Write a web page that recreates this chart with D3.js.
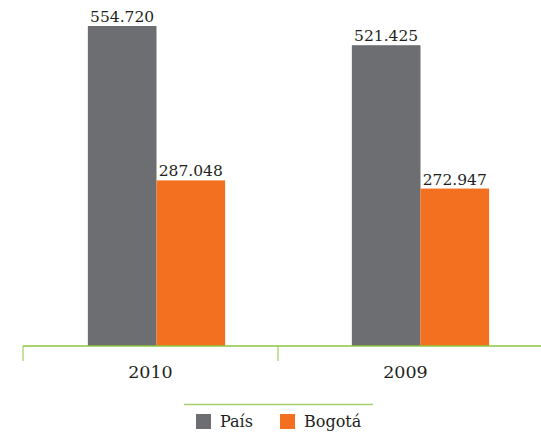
<!DOCTYPE html>
<html>
<head>
<meta charset="utf-8">
<script src="https://cdn.jsdelivr.net/npm/d3@7"></script>
<style>
  body { margin: 0; background: #fff; }
  text { font-family: "DejaVu Serif", serif; fill: #231f20; }
</style>
</head>
<body>
<div id="chart"></div>
<script>
// Data
const years = ["2010", "2009"];
const series = ["País", "Bogotá"];
const pais = [554720, 521425];
const bogota = [287048, 272947];
const colors = ["#6d6e71", "#f37021"];

const width = 541, height = 434;
const baseY = 346;

const svg = d3
  .select("#chart")
  .append("svg")
  .attr("width", width)
  .attr("height", height);

const es = d3.formatLocale({ decimal: ",", thousands: ".", grouping: [3], currency: ["$", ""] });
const fmt = es.format(",d");

// Group scale for bars
const x0 = d3
  .scaleBand()
  .domain(years)
  .range([24.5, 552.5])
  .paddingInner(0.48)
  .paddingOuter(0.24);

const x1 = d3.scaleBand().domain(series).range([0, x0.bandwidth()]);

// Axis scale (category boundaries)
const xAxis = d3.scaleBand().domain(years).range([23, 533]);

const y = d3.scaleLinear().domain([0, 554720]).range([baseY, 26]);

const rows = years.map((yr, i) => ({ year: yr, values: [pais[i], bogota[i]] }));

const groups = svg
  .selectAll("g.year")
  .data(rows)
  .join("g")
  .attr("class", "year")
  .attr("transform", (d) => `translate(${x0(d.year)},0)`);

groups
  .selectAll("rect")
  .data((d) => d.values.map((v, j) => ({ key: series[j], value: v, c: colors[j] })))
  .join("rect")
  .attr("x", (d) => x1(d.key))
  .attr("y", (d) => y(d.value))
  .attr("width", x1.bandwidth())
  .attr("height", (d) => baseY - y(d.value))
  .attr("fill", (d) => d.c);

groups
  .selectAll("text.val")
  .data((d) => d.values.map((v, j) => ({ key: series[j], value: v })))
  .join("text")
  .attr("class", "val")
  .attr("x", (d) => x1(d.key) + x1.bandwidth() / 2)
  .attr("y", (d) => y(d.value) - 4)
  .attr("text-anchor", "middle")
  .attr("font-size", "15.5px")
  .text((d) => fmt(d.value));

// Axis line and ticks
svg
  .append("line")
  .attr("x1", 23)
  .attr("x2", width)
  .attr("y1", baseY)
  .attr("y2", baseY)
  .attr("stroke", "#8dc63f")
  .attr("stroke-width", 1.5);

svg
  .selectAll("line.tick")
  .data(years)
  .join("line")
  .attr("class", "tick")
  .attr("x1", (d) => xAxis(d))
  .attr("x2", (d) => xAxis(d))
  .attr("y1", baseY)
  .attr("y2", 361)
  .attr("stroke", "#8dc63f")
  .attr("stroke-width", 1);

svg
  .selectAll("text.yr")
  .data(years)
  .join("text")
  .attr("class", "yr")
  .attr("x", (d) => xAxis(d) + xAxis.bandwidth() / 2)
  .attr("y", 378)
  .attr("text-anchor", "middle")
  .attr("font-size", "17.5px")
  .text((d) => d);

// Legend
svg
  .append("line")
  .attr("x1", 184)
  .attr("x2", 373)
  .attr("y1", 404.5)
  .attr("y2", 404.5)
  .attr("stroke", "#a6d06f")
  .attr("stroke-width", 1.5);

const legendX = [196, 280];
const legend = svg
  .selectAll("g.legend")
  .data(series)
  .join("g")
  .attr("class", "legend")
  .attr("transform", (d, i) => `translate(${legendX[i]},414)`);

legend
  .append("rect")
  .attr("width", 15)
  .attr("height", 15)
  .attr("fill", (d, i) => colors[i]);

legend
  .append("text")
  .attr("x", 24)
  .attr("y", 13)
  .attr("font-size", "16px")
  .text((d) => d);
</script>
</body>
</html>
